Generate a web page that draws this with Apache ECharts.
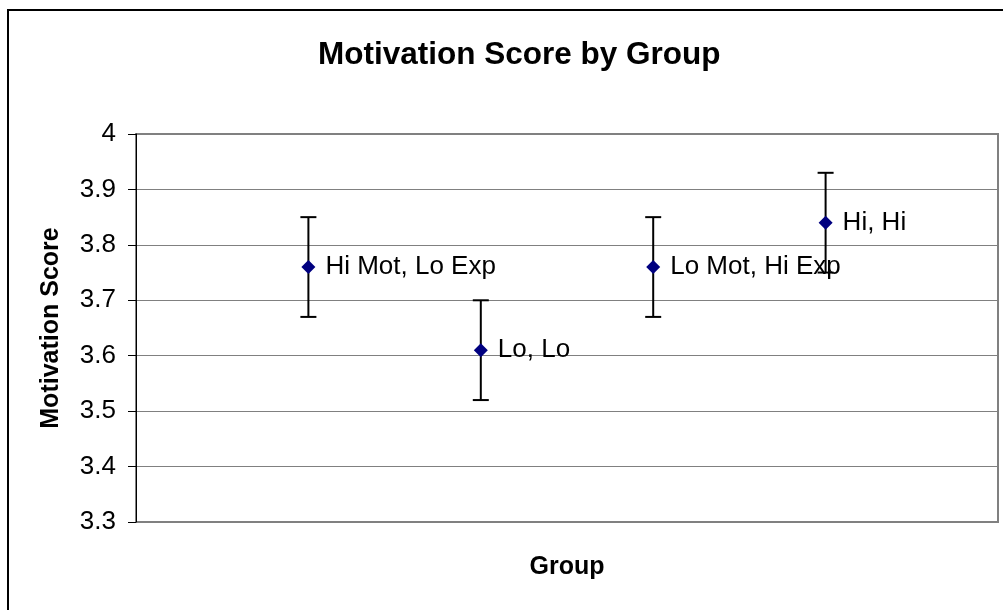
<!DOCTYPE html>
<html><head><meta charset="utf-8">
<script src="https://cdn.jsdelivr.net/npm/echarts@6/dist/echarts.min.js"></script>
<style>html,body{margin:0;padding:0;background:#fff}#c{width:1003px;height:610px}</style>
</head><body><div id="c"></div>
<script>
const groups = ["Hi Mot, Lo Exp", "Lo, Lo", "Lo Mot, Hi Exp", "Hi, Hi"];
const positions = [1, 2, 3, 4];
const means = [3.76, 3.61, 3.76, 3.84];
const errLow = [3.67, 3.52, 3.67, 3.75];
const errHigh = [3.85, 3.70, 3.85, 3.93];
const yMin = 3.3, yMax = 4, yStep = 0.1;
const xMin = 0, xMax = 5;

const FONT = '"Liberation Sans", Arial, sans-serif';
const chart = echarts.init(document.getElementById('c'), null, {renderer: 'canvas'});

const pointData = positions.map((x, i) => ({value: [x, means[i]], name: groups[i]}));
const errData = positions.map((x, i) => [x, errLow[i], errHigh[i]]);

chart.setOption({
  animation: false,
  backgroundColor: '#fff',
  textStyle: {fontFamily: FONT},
  title: {
    text: 'Motivation Score by Group',
    left: 313, top: 34,
    textStyle: {fontFamily: FONT, fontSize: 31.5, fontWeight: 'bold', color: '#000'}
  },
  graphic: [{
    type: 'rect', silent: true, z: -10,
    shape: {x: 8, y: 10, width: 1100, height: 700},
    style: {fill: 'none', stroke: '#000', lineWidth: 2}
  }],
  grid: {left: 136, right: 5, top: 134, height: 388, show: true, borderColor: '#808080', borderWidth: 2, backgroundColor: 'transparent'},
  xAxis: {
    type: 'value', min: xMin, max: xMax,
    name: 'Group', nameLocation: 'middle', nameGap: 33,
    nameTextStyle: {fontFamily: FONT, fontSize: 25, fontWeight: 'bold', color: '#000'},
    axisLine: {show: false}, axisTick: {show: false}, axisLabel: {show: false}, splitLine: {show: false}
  },
  yAxis: {
    type: 'value', min: yMin, max: yMax, interval: yStep,
    name: 'Motivation Score', nameLocation: 'middle', nameGap: 72, nameRotate: 90,
    nameTextStyle: {fontFamily: FONT, fontSize: 25, fontWeight: 'bold', color: '#000'},
    axisLine: {show: true, lineStyle: {color: '#000', width: 1}},
    axisTick: {show: true, inside: false, length: 8, lineStyle: {color: '#000'}},
    axisLabel: {fontFamily: FONT, fontSize: 26, color: '#000', margin: 20,
      formatter: v => String(Math.round(v * 10) / 10)},
    splitLine: {show: true, lineStyle: {color: '#808080', width: 1}}
  },
  series: [{
    type: 'custom', z: 3,
    data: errData,
    renderItem: function (params, api) {
      const x = api.value(0);
      const lo = api.coord([x, api.value(1)]);
      const hi = api.coord([x, api.value(2)]);
      const cap = 8;
      const st = {stroke: '#000', lineWidth: 2};
      return {type: 'group', children: [
        {type: 'line', shape: {x1: lo[0], y1: lo[1], x2: hi[0], y2: hi[1]}, style: st},
        {type: 'line', shape: {x1: lo[0] - cap, y1: lo[1], x2: lo[0] + cap, y2: lo[1]}, style: st},
        {type: 'line', shape: {x1: hi[0] - cap, y1: hi[1], x2: hi[0] + cap, y2: hi[1]}, style: st}
      ]};
    }
  }, {
    type: 'scatter', z: 5,
    symbol: 'diamond', symbolSize: 14,
    itemStyle: {color: '#000080', opacity: 1},
    data: pointData,
    label: {show: true, position: 'right', distance: 10, formatter: '{b}',
      fontFamily: FONT, fontSize: 26, color: '#000'}
  }]
});
</script></body></html>
